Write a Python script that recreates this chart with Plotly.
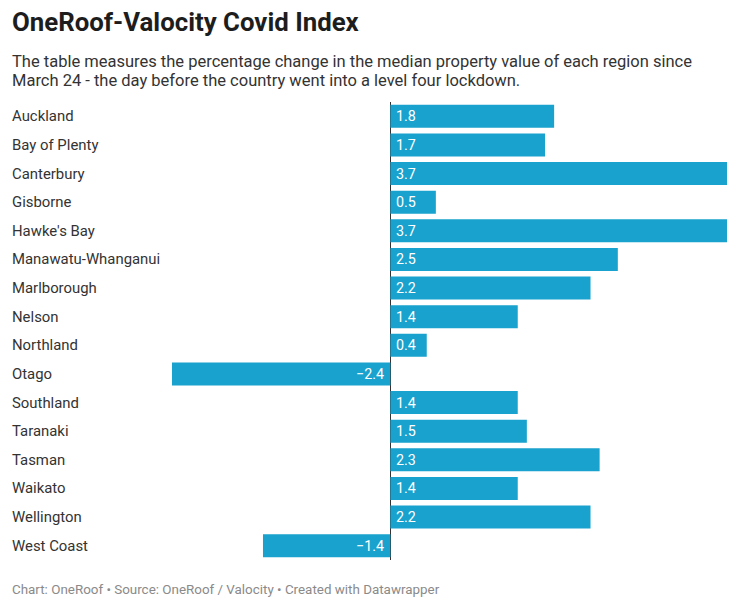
import plotly.graph_objects as go

regions = ["Auckland", "Bay of Plenty", "Canterbury", "Gisborne", "Hawke's Bay",
           "Manawatu-Whanganui", "Marlborough", "Nelson", "Northland", "Otago",
           "Southland", "Taranaki", "Tasman", "Waikato", "Wellington", "West Coast"]
values = [1.8, 1.7, 3.7, 0.5, 3.7, 2.5, 2.2, 1.4, 0.4, -2.4,
          1.4, 1.5, 2.3, 1.4, 2.2, -1.4]

title = "OneRoof-Valocity Covid Index"
subtitle_lines = [
    "The table measures the percentage change in the median property value of each region since",
    "March 24 - the day before the country went into a level four lockdown.",
]
footer = "Chart: OneRoof • Source: OneRoof / Valocity • Created with Datawrapper"

BAR = "#18a2cd"
FONT = "Roboto"

fig = go.Figure(go.Bar(
    x=values, y=regions, orientation="h",
    marker=dict(color=BAR, line=dict(width=0)),
    hoverinfo="skip",
))

annotations = []
for r, v in zip(regions, values):
    annotations.append(dict(
        x=0, xref="paper", y=r, yref="y", xanchor="left", yanchor="middle",
        xshift=-162, text=r, showarrow=False,
        font=dict(family=FONT, size=14.9, color="#333333"),
    ))
    txt = f"{v:.1f}".replace("-", "\u2212")
    annotations.append(dict(
        x=0, xref="x", y=r, yref="y",
        xanchor="left" if v >= 0 else "right", yanchor="middle",
        xshift=4 if v >= 0 else -4, text=txt, showarrow=False,
        font=dict(family=FONT, size=14.3, color="white"),
    ))

annotations.append(dict(
    x=0, xref="paper", y=1, yref="paper", xanchor="left", yanchor="middle",
    xshift=-162, yshift=80, text=f"<b>{title}</b>", showarrow=False,
    font=dict(family=FONT, size=25.8, color="#1d1d1d"),
))
for i, line in enumerate(subtitle_lines):
    annotations.append(dict(
        x=0, xref="paper", y=1, yref="paper", xanchor="left", yanchor="middle",
        xshift=-162, yshift=41 - 19 * i, text=line, showarrow=False,
        font=dict(family=FONT, size=16.5, color="#333333"),
    ))
annotations.append(dict(
    x=0, xref="paper", y=0, yref="paper", xanchor="left", yanchor="middle",
    xshift=-162, yshift=-29, text=footer, showarrow=False,
    font=dict(family=FONT, size=13.4, color="#8a8a8a"),
))

fig.update_layout(
    width=732, height=604,
    margin=dict(l=164, r=13, t=94, b=52, pad=0),
    paper_bgcolor="white", plot_bgcolor="white",
    bargap=0.2,
    showlegend=False,
    xaxis=dict(range=[-2.4, 3.7], showgrid=False, showticklabels=False,
               zeroline=True, zerolinecolor="#333333", zerolinewidth=1,
               fixedrange=True),
    yaxis=dict(autorange="reversed", showgrid=False, showticklabels=False,
               zeroline=False, fixedrange=True),
    annotations=annotations,
    font=dict(family=FONT),
)

fig.write_html("out.html", config={"displayModeBar": False})
